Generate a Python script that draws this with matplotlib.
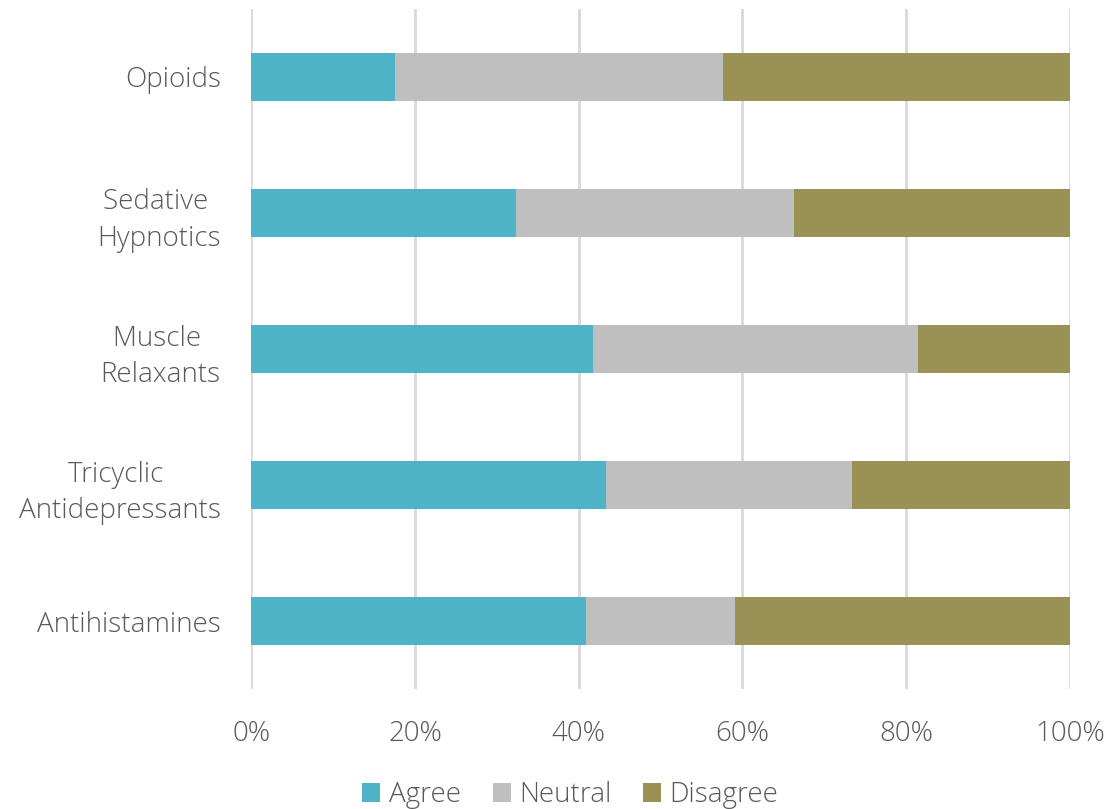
import numpy as np
import matplotlib.pyplot as plt

plt.rcParams['font.family'] = ['Open Sans', 'DejaVu Sans']
plt.rcParams['font.weight'] = 'light'

categories = ['Opioids', 'Sedative \nHypnotics', 'Muscle \nRelaxants',
              'Tricyclic \nAntidepressants', 'Antihistamines']
agree = [17.6, 32.4, 41.8, 43.3, 40.9]
neutral = [40.0, 33.9, 39.7, 30.1, 18.2]
disagree = [42.4, 33.7, 18.5, 26.6, 40.9]

series = ['Agree', 'Neutral', 'Disagree']
colors = ['#4FB3C8', '#BFBFBF', '#9A9154']
text_color = '#595959'

fig = plt.figure(figsize=(11.12, 8.09), dpi=100)
ax = fig.add_axes([0.226, 0.1483, 0.736, 0.8406])

y = np.arange(len(categories))[::-1]
left = np.zeros(len(categories))
for name, vals, c in zip(series, [agree, neutral, disagree], colors):
    ax.barh(y, vals, left=left, height=0.353, color=c, label=name, zorder=3)
    left += np.array(vals)

ax.set_xlim(0, 100)
ax.set_ylim(-0.5, len(categories) - 0.5)
ax.set_xticks(np.arange(0, 101, 20))
ax.set_xticklabels([f'{v}%' for v in range(0, 101, 20)])
ax.set_yticks(y)
ax.set_yticklabels(categories, multialignment='center', linespacing=1.4)
ax.tick_params(axis='both', length=0, labelsize=20, colors=text_color)
ax.tick_params(axis='x', pad=22)
ax.tick_params(axis='y', pad=22)
ax.grid(axis='x', color='#D9D9D9', linewidth=2, zorder=0)
for s in ax.spines.values():
    s.set_visible(False)

fig.legend(*ax.get_legend_handles_labels(), loc='center', bbox_to_anchor=(0.513, 0.017),
           ncol=3, frameon=False, fontsize=20, labelcolor=text_color,
           handlelength=0.65, handleheight=0.65, handletextpad=0.3,
           columnspacing=1.15, borderaxespad=0)

fig.savefig('out.png', dpi=100)
